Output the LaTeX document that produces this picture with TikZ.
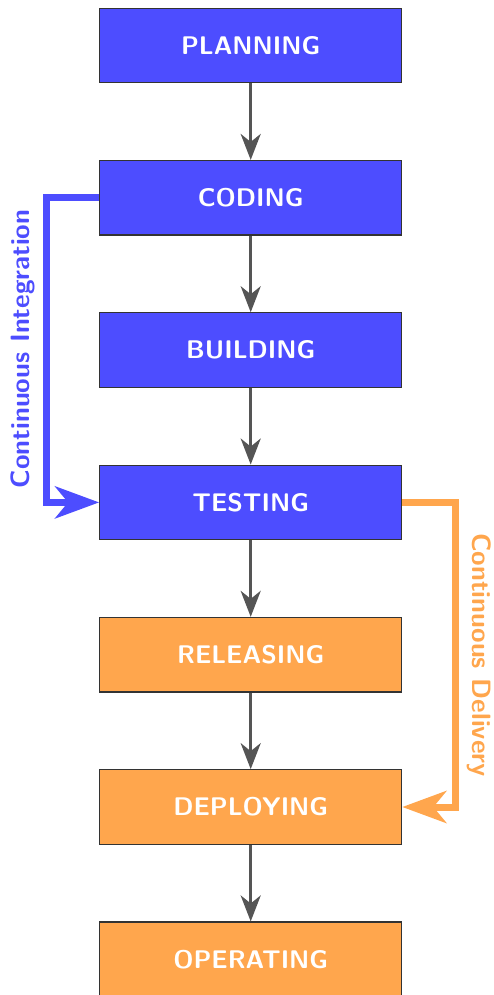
\documentclass[tikz,border=0pt]{standalone}
\usetikzlibrary{arrows.meta}
\definecolor{ciblue}{RGB}{77,77,255}
\definecolor{cdorange}{RGB}{255,166,77}
\definecolor{flowgray}{RGB}{85,85,85}
\begin{document}
\begin{tikzpicture}[x=1pt,y=-1pt,
  stage/.style={draw=black!80, line width=1.2pt, minimum width=302pt, minimum height=74.5pt,
    inner sep=0pt, text=white, font=\fontsize{25.5}{30}\selectfont\sffamily\bfseries},
  devstage/.style={stage, fill=ciblue},
  opsstage/.style={stage, fill=cdorange},
  flow/.style={draw=flowgray, line width=3pt, -{Stealth[length=26pt,width=20pt,inset=8pt]}},
  loop/.style={line width=7pt, -{Stealth[length=44pt,width=32pt,inset=13pt]}},
  looplabel/.style={font=\fontsize{26.5}{31}\selectfont\sffamily\bfseries, inner sep=0pt}
]
\useasboundingbox (0,0) rectangle (494,995);

\node[devstage] (plan)    at (250.7,45.5)  {PLANNING};
\node[devstage] (code)    at (250.7,197.8) {CODING};
\node[devstage] (build)   at (250.7,350.1) {BUILDING};
\node[devstage] (test)    at (250.7,502.4) {TESTING};
\node[opsstage] (release) at (250.7,654.7) {RELEASING};
\node[opsstage] (deploy)  at (250.7,807.0) {DEPLOYING};
\node[opsstage] (operate) at (250.7,959.3) {OPERATING};

\draw[flow] (plan) -- (code);
\draw[flow] (code) -- (build);
\draw[flow] (build) -- (test);
\draw[flow] (test) -- (release);
\draw[flow] (release) -- (deploy);
\draw[flow] (deploy) -- (operate);

% Continuous integration loop
\draw[loop, draw=ciblue] (code.west) -| (46,0 |- test.west) -- (test.west);
\node[looplabel, text=ciblue, rotate=90] (cilabel) at (22.5,349) {Continuous Integration};

% Continuous delivery loop
\draw[loop, draw=cdorange] (test.east) -| (455,0 |- deploy.east) -- (deploy.east);
\node[looplabel, text=cdorange, rotate=-90] (cdlabel) at (479,655) {Continuous Delivery};
\end{tikzpicture}
\end{document}
